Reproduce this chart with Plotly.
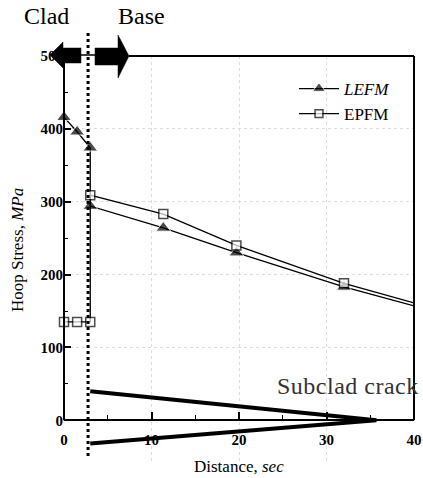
import plotly.graph_objects as go

# ---- data ----
lefm_x = [0, 1.5, 3, 3, 11.35, 19.7, 32, 40]
lefm_y = [416, 396, 374, 294, 264, 230, 183, 157]
lefm_marker = [True, True, True, True, True, True, True, False]

epfm_x = [0, 1.5, 3, 3, 11.35, 19.7, 32, 40]
epfm_y = [135, 135, 135, 309, 283, 240, 188, 161]
epfm_marker = [True, True, True, True, True, True, True, False]

crack_x = [3, 35.7, 3]
crack_y = [40, 0, -32]

interface_x = 2.75

x_ticks = [0, 10, 20, 30, 40]
x_minor = [5, 15, 25, 35]
y_ticks = [0, 100, 200, 300, 400, 500]
y_minor = [50, 150, 250, 350, 450]

X_RANGE = [0, 40]
Y_RANGE = [-60, 500]

# ---- layout geometry ----
W, H = 423, 478
ML, MR, MT, MB = 64, 9, 56, 14
PW = W - ML - MR
PH = H - MT - MB
FONT = "Liberation Serif"


def PX(px):
    return (px - ML) / PW


def PY(py):
    return (H - MB - py) / PH


def DX(x):
    return (x - X_RANGE[0]) / (X_RANGE[1] - X_RANGE[0])


def DY(y):
    return (y - Y_RANGE[0]) / (Y_RANGE[1] - Y_RANGE[0])


fig = go.Figure()

fig.add_trace(go.Scatter(
    x=lefm_x, y=lefm_y, mode="lines+markers", name="<i>LEFM</i>",
    cliponaxis=False,
    line=dict(color="black", width=1.3),
    marker=dict(symbol="triangle-up", color="black",
                size=[13 if m else 0 for m in lefm_marker]),
))
fig.add_trace(go.Scatter(
    x=epfm_x, y=epfm_y, mode="lines+markers", name="EPFM",
    cliponaxis=False,
    line=dict(color="black", width=1.3),
    marker=dict(symbol="square", color="white",
                size=[9 if m else 0 for m in epfm_marker],
                line=dict(color="black", width=1.5)),
))
fig.add_trace(go.Scatter(
    x=crack_x, y=crack_y, mode="lines", showlegend=False,
    line=dict(color="black", width=4),
))

shapes = []
# frame lines
shapes.append(dict(type="line", xref="paper", yref="paper",
                   x0=0, x1=0, y0=DY(0), y1=DY(500),
                   line=dict(color="black", width=2)))
shapes.append(dict(type="line", xref="paper", yref="paper",
                   x0=1, x1=1, y0=DY(0), y1=DY(500),
                   line=dict(color="black", width=2)))
shapes.append(dict(type="line", xref="paper", yref="paper",
                   x0=PX(129), x1=1, y0=DY(500), y1=DY(500),
                   line=dict(color="black", width=2)))
# connector between arrows
shapes.append(dict(type="line", xref="paper", yref="paper",
                   x0=PX(80), x1=PX(96), y0=PY(55), y1=PY(55),
                   line=dict(color="black", width=1.5)))


def poly(pts):
    d = "M " + " L ".join(f"{PX(a):.5f},{PY(b):.5f}" for a, b in pts) + " Z"
    return dict(type="path", xref="paper", yref="paper", path=d,
                fillcolor="black", line=dict(color="black", width=0.5))


# left arrow (Clad)
shapes.append(poly([(50, 55), (63, 42), (63, 48), (81, 48), (81, 63),
                    (63, 63), (63, 68)]))
# right arrow (Base)
shapes.append(poly([(95, 48), (118, 48), (118, 35), (129, 56), (118, 78),
                    (118, 65), (95, 65)]))
# clad/base interface dotted line
shapes.append(dict(type="line", xref="paper", yref="paper",
                   x0=DX(interface_x), x1=DX(interface_x),
                   y0=PY(456), y1=PY(31),
                   line=dict(color="black", width=3, dash="dot")))


def ann(text, px, py, size, **kw):
    d = dict(text=text, x=PX(px), y=PY(py), xref="paper", yref="paper",
             xanchor="center", yanchor="middle", showarrow=False,
             font=dict(family=FONT, size=size, color=kw.pop("color", "black")))
    d.update(kw)
    return d


annotations = [
    ann("Clad", 46, 16, 24),
    ann("Base", 141, 16, 24),
    ann("Hoop Stress, <i>MPa</i>", 17, 250, 17, textangle=-90),
    ann("Distance, <i>sec</i>", 239, 466, 17),
    ann('<span style="letter-spacing:0.5px">Subclad crack</span>', 275, 386, 24,
        color="#333333", xanchor="left"),
]

fig.update_layout(
    width=W, height=H,
    margin=dict(l=ML, r=MR, t=MT, b=MB, autoexpand=False),
    paper_bgcolor="white", plot_bgcolor="white",
    shapes=shapes, annotations=annotations,
    legend=dict(x=PX(294), y=PY(71), xanchor="left", yanchor="top",
                bgcolor="rgba(0,0,0,0)", itemwidth=40,
                font=dict(family=FONT, size=17, color="black")),
    xaxis=dict(range=X_RANGE, anchor="free", position=DY(0), automargin=False,
               showline=True, linecolor="black", linewidth=2,
               tickvals=x_ticks, ticktext=[str(v) for v in x_ticks],
               ticks="inside", ticklen=7, tickwidth=1.5, tickcolor="black",
               minor=dict(ticks="inside", ticklen=4, tickvals=x_minor,
                          tickcolor="black", tickwidth=1.2, showgrid=False),
               ticklabelstandoff=6,
               tickfont=dict(family=FONT, size=15, color="black", weight="bold"),
               showgrid=True, gridcolor="#dddddd", griddash="dot", gridwidth=1,
               zeroline=False),
    yaxis=dict(range=Y_RANGE, showline=False, automargin=False,
               tickvals=y_ticks, ticktext=[str(v) for v in y_ticks],
               ticks="inside", ticklen=7, tickwidth=1.5, tickcolor="black",
               minor=dict(ticks="inside", ticklen=4, tickvals=y_minor,
                          tickcolor="black", tickwidth=1.2, showgrid=False),
               tickfont=dict(family=FONT, size=15, color="black", weight="bold"),
               showgrid=True, gridcolor="#dddddd", griddash="dot", gridwidth=1,
               zeroline=False),
    showlegend=True,
)

fig.write_html("out.html", config={"displayModeBar": False},
               post_script="document.body.style.margin='0';")
